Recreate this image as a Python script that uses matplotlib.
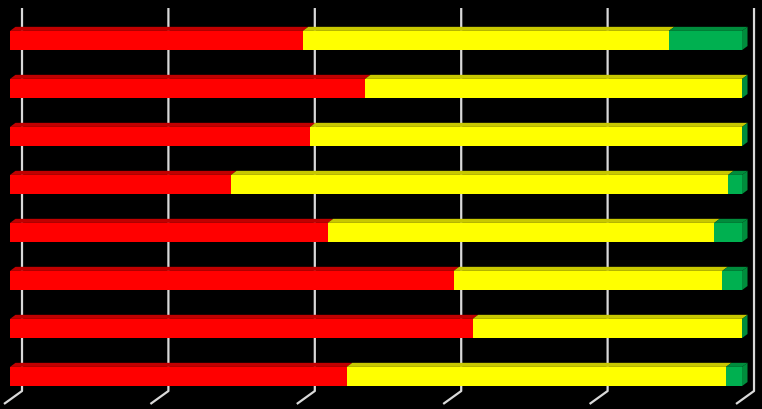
import numpy as np
import matplotlib.pyplot as plt
from matplotlib.patches import Polygon

# porcentajes por fila (rojo / amarillo / verde)
rojo = [40.0, 48.5, 41.0, 30.2, 43.4, 60.6, 63.2, 46.0]
amarillo = [50.0, 51.5, 59.0, 67.9, 52.8, 36.7, 36.8, 51.8]
verde = [10.0, 0.0, 0.0, 1.9, 3.8, 2.7, 0.0, 2.2]
ticks_x = [0, 20, 40, 60, 80, 100]

colores = ['#FF0000', '#FFFF00', '#00B050']
colores_sup = ['#C00000', '#C8C800', '#008C3C']

alto = 0.4        # alto de la barra (en filas)
dx, dy = 0.75, -0.085     # profundidad de la barra
pared_dx = 1.64           # desplazamiento de la pared del fondo
suelo_dx, suelo_dy = -2.46, 0.27

fig = plt.figure(figsize=(7.62, 4.09), dpi=100, facecolor='black')
ax = fig.add_axes([0, 0, 1, 1])
ax.set_facecolor('black')
ax.set_xlim(-1.366, 102.73)
ax.set_ylim(7.677, -0.844)
ax.axis('off')

# lineas de division en la pared y el suelo
y_arriba, y_abajo = -0.677, 7.302
for t in ticks_x:
    xb = t + pared_dx
    ax.plot([xb, xb, xb + suelo_dx], [y_arriba, y_abajo, y_abajo + suelo_dy],
            color='#D9D9D9', lw=1.6, solid_capstyle='butt', zorder=1)

filas = np.arange(len(rojo))
series = [rojo, amarillo, verde]
izq = np.zeros(len(rojo))
for s, vals in enumerate(series):
    vals = np.array(vals)
    ax.barh(filas, vals, left=izq, height=alto, color=colores[s], zorder=3)
    for i in filas:
        if vals[i] <= 0:
            continue
        top = i - alto / 2
        a, b = izq[i], izq[i] + vals[i]
        ax.add_patch(Polygon([(a, top), (b, top), (b + dx, top + dy), (a + dx, top + dy)],
                             closed=True, color=colores_sup[s], lw=0, zorder=3))
    izq = izq + vals

# cara lateral derecha
for i in filas:
    top, bot = i - alto / 2, i + alto / 2
    r = izq[i]
    ax.add_patch(Polygon([(r, top), (r + dx, top + dy), (r + dx, bot + dy), (r, bot)],
                         closed=True, color=colores_sup[2], lw=0, zorder=3))

fig.savefig('out.png', dpi=100, facecolor='black')
